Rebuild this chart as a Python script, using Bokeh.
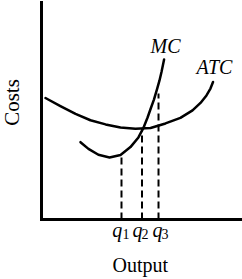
import math
from bokeh.plotting import figure
from bokeh.models import Range1d, Label
from bokeh.embed import file_html
from bokeh.resources import INLINE

# ---- data (arbitrary units) ----
atc_x = [0.20, 0.95, 1.71, 2.46, 3.22, 3.97, 4.72, 5.48, 6.23, 6.98, 7.59, 7.99, 8.29, 8.49, 8.62]
atc_y = [6.16, 5.75, 5.35, 5.03, 4.82, 4.66, 4.60, 4.64, 4.87, 5.15, 5.53, 5.91, 6.29, 6.64, 6.97]

mc_x = [1.96, 2.36, 2.86, 3.42, 3.97, 4.47, 4.87, 5.13, 5.33, 5.48, 5.65, 5.81, 5.93, 6.03, 6.16]
mc_y = [3.92, 3.58, 3.28, 3.14, 3.27, 3.67, 4.16, 4.66, 5.17, 5.60, 6.08, 6.62, 7.05, 7.48, 8.11]

q_x = [4.02, 5.05, 5.88]
q_top = [3.24, 4.61, 6.39]
q_names = ["q", "q", "q"]
q_subs = ["1", "2", "3"]

x_label = "Output"
y_label = "Costs"
curve_names = ["MC", "ATC"]

x_max = 10.0
y_max = 11.0

SERIF = "Liberation Serif"
PX_X = 19.9    # pixels per output unit
PX_Y = 19.727  # pixels per cost unit

p = figure(width=242, height=279, output_backend="svg", toolbar_location=None,
           x_range=Range1d(-41 / PX_X, 201 / PX_X), y_range=Range1d(-60 / PX_Y, 219 / PX_Y),
           x_axis_type=None, y_axis_type=None,
           min_border=0, min_border_left=0, min_border_right=0,
           min_border_top=0, min_border_bottom=0)
p.outline_line_color = None
p.background_fill_color = "white"
p.border_fill_color = "white"
p.grid.visible = False

# axes
p.segment(x0=[0, 0], y0=[0, 0], x1=[x_max, 0], y1=[0, y_max], line_color="black",
          line_width=3, line_cap="square")

# dashed guide lines
p.segment(x0=q_x, y0=[0] * len(q_x), x1=q_x, y1=q_top, line_color="black",
          line_width=2, line_dash="7 4")

# curves
p.line(atc_x, atc_y, line_color="black", line_width=2.5, line_join="round", line_cap="round")
p.line(mc_x, mc_y, line_color="black", line_width=2.5, line_join="round", line_cap="round")

def lab(x, y, text, size="20px", style="normal", align="center", angle=0.0):
    p.add_layout(Label(x=x, y=y, text=text, text_font=SERIF, text_font_style=style,
                       text_font_size=size, text_align=align, text_baseline="alphabetic",
                       text_color="black", angle=angle))

# curve labels
lab(6.23, 8.82, curve_names[0], style="italic")
lab(8.69, 7.71, curve_names[1], style="italic")

# q labels
q_left = [3.56, 4.57, 5.58]
sub_left = [4.07, 5.03, 6.03]
for i in range(len(q_x)):
    lab(q_left[i], -0.55, q_names[i], style="italic", align="left")
    lab(sub_left[i], -0.74, q_subs[i], size="14px", align="left")

# axis titles
lab(4.97, -2.33, x_label)
lab(-1.5, 5.93, y_label, size="21px", angle=math.pi / 2)

open("out.html", "w").write(file_html(p, INLINE))
